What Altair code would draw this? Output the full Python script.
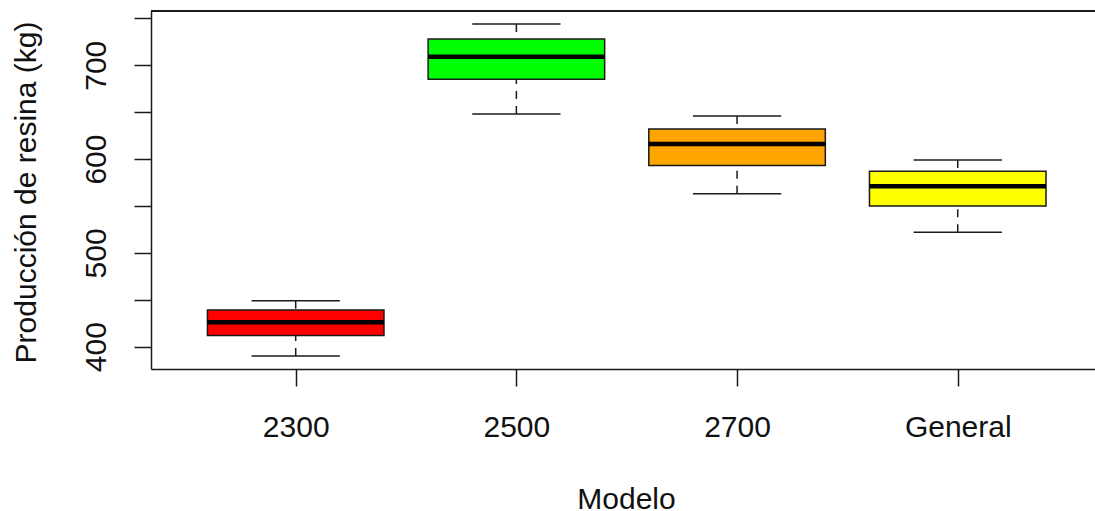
import json
import altair as alt
import pandas as pd

# ---- data ----
modelos = ["2300", "2500", "2700", "General"]
bigote_inf = [390, 648, 563, 522]
cuartil_1 = [412, 685, 593, 550]
mediana = [426, 709, 616, 571]
cuartil_3 = [439, 728, 632, 587]
bigote_sup = [449, 744, 646, 599]
colores = ["#FF0000", "#00FF00", "#FFA500", "#FFFF00"]
y_ticks = [400, 450, 500, 550, 600, 650, 700, 750]

BOX_HALF = 0.4
CAP_HALF = 0.2
FONT = "Liberation Sans"
FS = 30
LINE = "#1a1a1a"
LW = 1.5

pos = list(range(1, len(modelos) + 1))
df = pd.DataFrame({
    "modelo": modelos,
    "pos": pos,
    "wl": bigote_inf,
    "q1": cuartil_1,
    "med": mediana,
    "q3": cuartil_3,
    "wh": bigote_sup,
})
df["lo"] = df["pos"] - BOX_HALF
df["hi"] = df["pos"] + BOX_HALF
df["clo"] = df["pos"] - CAP_HALF
df["chi"] = df["pos"] + CAP_HALF

xs = alt.Scale(domain=[0.3443, 4.622], nice=False, zero=False)
ys = alt.Scale(domain=[376.2, 757.8], nice=False, zero=False)

xaxis = alt.Axis(
    title="Modelo",
    values=pos,
    labelExpr=json.dumps(modelos) + "[datum.value - 1]",
    grid=False,
    tickSize=17, tickWidth=LW, tickColor=LINE,
    domainColor=LINE, domainWidth=LW,
    labelPadding=50, labelBaseline="alphabetic", labelAlign="center",
    labelFont=FONT, labelFontSize=FS, labelColor="#111111",
    labelFlush=False, labelOverlap=False,
    titleFont=FONT, titleFontSize=FS, titleFontWeight="normal", titleColor="#111111",
    titleX=475, titleY=139, titleBaseline="alphabetic", titleAlign="center",
)
yaxis = alt.Axis(
    title="Producción de resina (kg)",
    values=y_ticks,
    labelExpr="datum.value % 100 == 0 ? datum.label : ''",
    grid=False,
    tickSize=17, tickWidth=LW, tickColor=LINE,
    domainColor=LINE, domainWidth=LW,
    labelAngle=270, labelAlign="center", labelBaseline="alphabetic", labelPadding=29,
    labelFont=FONT, labelFontSize=FS, labelColor="#111111",
    labelFlush=False, labelOverlap=False,
    titleFont=FONT, titleFontSize=FS, titleFontWeight="normal", titleColor="#111111",
    titleAngle=270, titleX=-116, titleY=181, titleBaseline="alphabetic", titleAlign="center",
)

base = alt.Chart(df)

whisk_up = base.mark_rule(strokeDash=[8, 7], strokeWidth=LW, color=LINE).encode(
    x=alt.X("pos:Q", scale=xs, axis=xaxis),
    y=alt.Y("wh:Q", scale=ys, axis=yaxis),
    y2="q3:Q",
)
whisk_dn = base.mark_rule(strokeDash=[8, 7], strokeWidth=LW, color=LINE).encode(
    x=alt.X("pos:Q", scale=xs, axis=xaxis),
    y=alt.Y("wl:Q", scale=ys, axis=yaxis),
    y2="q1:Q",
)
cap_up = base.mark_rule(strokeWidth=LW, color=LINE).encode(
    x=alt.X("clo:Q", scale=xs, axis=xaxis),
    x2="chi:Q",
    y=alt.Y("wh:Q", scale=ys, axis=yaxis),
)
cap_dn = base.mark_rule(strokeWidth=LW, color=LINE).encode(
    x=alt.X("clo:Q", scale=xs, axis=xaxis),
    x2="chi:Q",
    y=alt.Y("wl:Q", scale=ys, axis=yaxis),
)
boxes = base.mark_rect(stroke=LINE, strokeWidth=LW).encode(
    x=alt.X("lo:Q", scale=xs, axis=xaxis),
    x2="hi:Q",
    y=alt.Y("q1:Q", scale=ys, axis=yaxis),
    y2="q3:Q",
    fill=alt.Fill("modelo:N", scale=alt.Scale(domain=modelos, range=colores), legend=None),
)
medians = base.mark_rule(strokeWidth=4.5, color="#000000").encode(
    x=alt.X("lo:Q", scale=xs, axis=xaxis),
    x2="hi:Q",
    y=alt.Y("med:Q", scale=ys, axis=yaxis),
)
top_border = base.mark_rule(strokeWidth=LW, color=LINE).encode(y=alt.value(0))

chart = alt.layer(whisk_up, whisk_dn, cap_up, cap_dn, boxes, medians, top_border).properties(
    width=944,
    height=358,
    autosize=alt.AutoSizeParams(type="none"),
    padding={"left": 151, "top": 11, "right": 0, "bottom": 142},
    background="white",
).configure_view(strokeWidth=0)

chart.save("out.html", embed_options={"renderer": "svg", "actions": False})
